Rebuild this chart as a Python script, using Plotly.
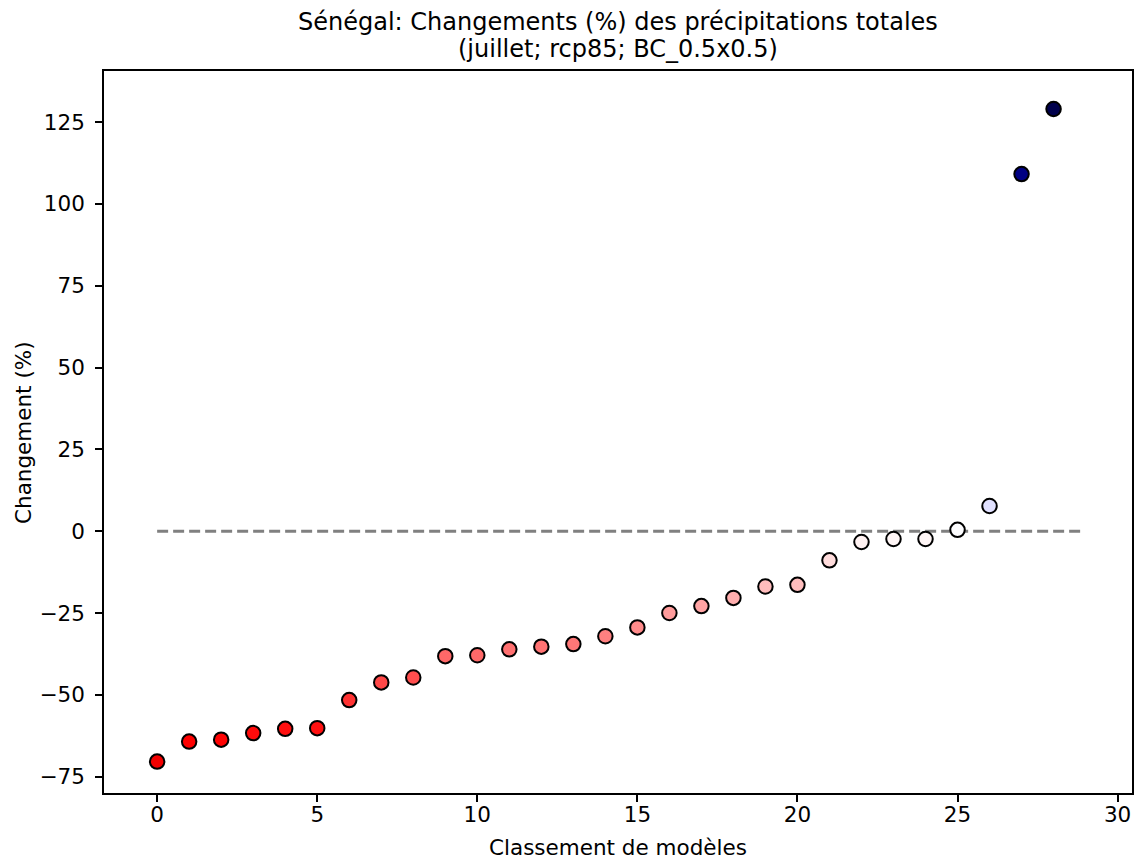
import plotly.graph_objects as go

# Model ranking (x) and change in total precipitation (%) (y)
rank = list(range(29))
change = [-70.4, -64.3, -63.7, -61.7, -60.4, -60.2, -51.6, -46.2, -44.7,
          -38.2, -37.9, -36.1, -35.3, -34.5, -32.1, -29.4, -25.0, -22.9,
          -20.4, -16.9, -16.4, -8.9, -3.3, -2.4, -2.4, 0.4, 7.7, 109.1, 129.0]
zero_line_x = [0, 28.93]
zero_line_y = [0, 0]

title_l1 = "Sénégal: Changements (%) des précipitations totales"
title_l2 = "(juillet; rcp85; BC_0.5x0.5)"
x_title = "Classement de modèles"
y_title = "Changement (%)"

vmax = max(abs(v) for v in change)

# matplotlib "seismic_r"
seismic_r = [
    [0.0, "rgb(127,0,0)"],
    [0.25, "rgb(255,0,0)"],
    [0.5, "rgb(255,255,255)"],
    [0.75, "rgb(0,0,255)"],
    [1.0, "rgb(0,0,76)"],
]

FONT = "DejaVu Sans, Liberation Sans, sans-serif"
TICK = 21.5
TITLE = 24

fig = go.Figure()
fig.add_trace(go.Scatter(
    x=zero_line_x, y=zero_line_y, mode="lines",
    line=dict(color="rgb(128,128,128)", width=3, dash="11px,5px"),
    hoverinfo="skip", showlegend=False,
))
fig.add_trace(go.Scatter(
    x=rank, y=change, mode="markers",
    marker=dict(size=14.5, color=change, colorscale=seismic_r,
                cmin=-vmax, cmax=vmax, showscale=False,
                line=dict(color="black", width=2)),
    showlegend=False,
))

axis_common = dict(
    showline=True, linecolor="black", linewidth=1.6, mirror=True,
    ticks="outside", ticklen=7, tickwidth=1.6, tickcolor="black",
    showgrid=False, zeroline=False,
    tickfont=dict(family=FONT, size=TICK, color="black"),
)

fig.update_layout(
    width=1137, height=861,
    plot_bgcolor="white", paper_bgcolor="white",
    margin=dict(l=104, r=3, t=71, b=68),
    font=dict(family=FONT, size=TICK, color="black"),
    xaxis=dict(range=[-1.66, 30.45], tickmode="array", ticklabelstandoff=-6,
               tickvals=[0, 5, 10, 15, 20, 25, 30], **axis_common),
    yaxis=dict(range=[-80.0, 140.6], tickmode="array", ticklabelstandoff=6,
               tickvals=[-75, -50, -25, 0, 25, 50, 75, 100, 125],
               **axis_common),
    annotations=[
        dict(text=title_l1, xref="paper", yref="paper", x=0.5, y=1.0678,
             xanchor="center", yanchor="middle", showarrow=False,
             font=dict(family=FONT, size=TITLE, color="black")),
        dict(text=title_l2, xref="paper", yref="paper", x=0.5, y=1.0305,
             xanchor="center", yanchor="middle", showarrow=False,
             font=dict(family=FONT, size=TITLE, color="black")),
        dict(text=x_title, xref="paper", yref="paper", x=0.5, y=-0.0757,
             xanchor="center", yanchor="middle", showarrow=False,
             font=dict(family=FONT, size=TICK, color="black")),
        dict(text=y_title, xref="paper", yref="paper", x=-0.0788, y=0.5,
             xanchor="center", yanchor="middle", showarrow=False,
             textangle=-90,
             font=dict(family=FONT, size=TICK, color="black")),
    ],
)

fig.write_html("out.html", config={"displayModeBar": False},
               post_script="document.body.style.margin='0';")
